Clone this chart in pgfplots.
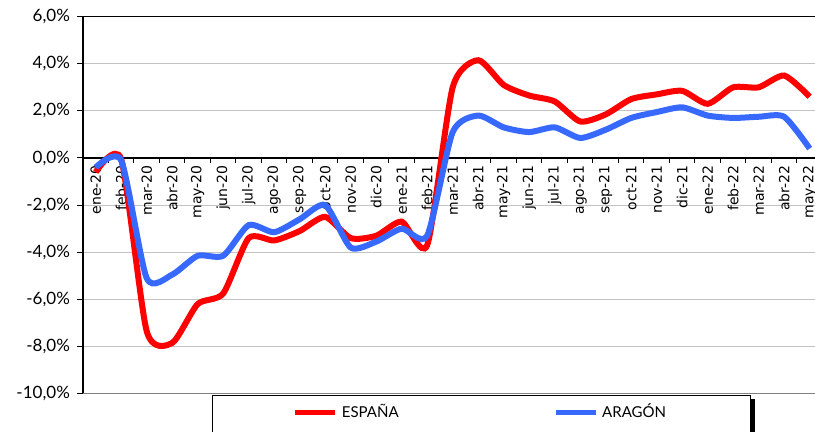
\documentclass[border=0pt]{standalone}
\usepackage{fontspec}
\setmainfont{Lato}
\newfontfamily\dejavu{DejaVu Sans}
\usepackage{pgfplots}
\pgfplotsset{compat=1.18}

\definecolor{espred}{RGB}{255,0,0}
\definecolor{arablue}{RGB}{55,105,255}
\definecolor{gridgray}{RGB}{195,195,195}

% month order: ene-20 ... may-22 -> 0 ... 28
\pgfplotstableread{
x espana aragon
0  -0.60 -0.40
1  -0.05 -0.10
2  -7.35 -5.10
3  -7.85 -4.95
4  -6.20 -4.15
5  -5.75 -4.15
6  -3.40 -2.85
7  -3.50 -3.15
8  -3.10 -2.60
9  -2.50 -2.00
10 -3.40 -3.80
11 -3.30 -3.55
12 -2.70 -3.00
13 -3.70 -3.30
14  3.00  1.10
15  4.15  1.80
16  3.10  1.30
17  2.65  1.10
18  2.40  1.30
19  1.55  0.85
20  1.85  1.20
21  2.50  1.70
22  2.70  1.95
23  2.85  2.15
24  2.30  1.80
25  3.00  1.70
26  3.00  1.75
27  3.50  1.75
28  2.60  0.40
}\datatable

\pgfplotsset{
  common/.style={
    x=12.75pt, y=11.78pt,
    xmin=-0.5, xmax=28.5, ymin=-10, ymax=6,
    anchor=origin, at={(0,0)},
  },
}

\begin{document}
\begin{tikzpicture}
\path[use as bounding box, clip] (-47.85pt,-137pt) rectangle (359.65pt,79pt);

% frame, grid and tick labels
\begin{axis}[common,
  axis y line=left, axis x line=middle,
  axis line style={-, black, line width=0.6pt},
  ytick={-10,-8,...,6},
  ymajorgrids, grid style={gridgray, line width=0.5pt},
  tick align=outside,
  y tick style={black, line width=0.5pt},
  major tick length=3pt,
  xtick={0,...,28},
  major x tick style={draw=none},
  minor xtick={-0.5,0.5,...,28.5},
  minor x tick style={black, line width=0.5pt},
  minor tick length=2.5pt,
  xticklabels={ene-20,feb-20,mar-20,abr-20,may-20,jun-20,jul-20,ago-20,sep-20,oct-20,nov-20,dic-20,ene-21,feb-21,mar-21,abr-21,may-21,jun-21,jul-21,ago-21,sep-21,oct-21,nov-21,dic-21,ene-22,feb-22,mar-22,abr-22,may-22},
  xticklabel style={rotate=90, anchor=east, inner sep=0.5pt, font=\dejavu\fontsize{7}{8}\selectfont},
  /pgf/number format/assume math mode=true,
  yticklabel={\pgfmathprintnumber[fixed,fixed zerofill,precision=1,use comma]{\tick}\%},
  yticklabel style={font=\fontsize{8.5}{10}\selectfont},
]
\draw[black, line width=0.6pt] (axis cs:-0.5,6) -- (axis cs:28.5,6);
\draw[black!50, line width=1pt] (axis cs:-0.5,-10) -- (axis cs:28.5,-10);
\end{axis}

% data
\begin{axis}[common,
  axis lines=none,
  legend columns=2,
  legend style={name=leg, at={(0.1744,-0.004)}, anchor=north west,
    draw=black, line width=0.5pt, fill=white,
    inner xsep=40pt, inner ysep=2pt,
    font=\fontsize{7.5}{9}\selectfont,
    /tikz/every even column/.append style={column sep=75pt}},
  legend image code/.code={\draw[line width=2.5pt] (0pt,0pt) -- (20pt,0pt); \path (0pt,-12pt);},
]
\addplot[espred, line width=3pt, smooth, tension=0.4] table[x=x, y=espana] {\datatable};
\addlegendentry{ESPAÑA}
\addplot[arablue, line width=3pt, smooth, tension=0.4] table[x=x, y=aragon] {\datatable};
\addlegendentry{ARAGÓN}
\end{axis}
% legend shadow
\fill[black] ([xshift=0.25pt, yshift=-2pt]leg.north east) rectangle ([xshift=2.25pt]leg.south east);
\end{tikzpicture}
\end{document}
